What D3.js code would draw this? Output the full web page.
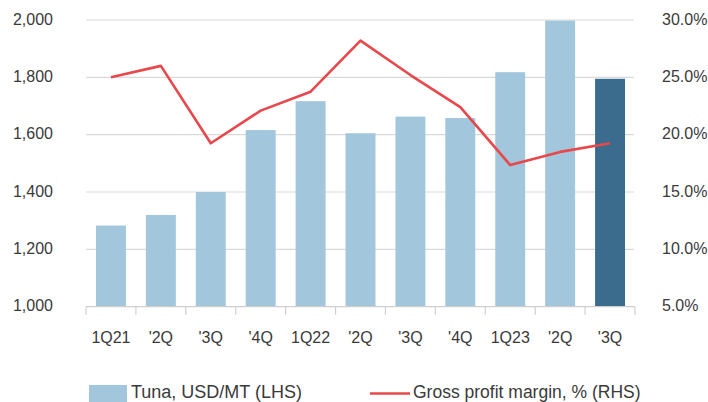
<!DOCTYPE html>
<html>
<head>
<meta charset="utf-8">
<script src="https://cdn.jsdelivr.net/npm/d3@7"></script>
<style>
  body { margin: 0; background: #fff; }
  svg text { font-family: "Liberation Sans", Arial, sans-serif; fill: #3a3a3a; }
</style>
</head>
<body>
<div id="chart"></div>
<script>
const width = 708;
const height = 402;

// quarters on the x axis
const quarters = ['1Q21', "'2Q", "'3Q", "'4Q", '1Q22', "'2Q", "'3Q", "'4Q", '1Q23', "'2Q", "'3Q"];
// tuna price, USD/MT (LHS)
const tunaPrice = [1283, 1320, 1400, 1616, 1717, 1605, 1663, 1658, 1818, 1998, 1795];
// gross profit margin, % (RHS)
const grossMargin = [25.0, 26.0, 19.25, 22.1, 23.75, 28.2, 25.2, 22.4, 17.35, 18.5, 19.25];
// axis ticks
const leftTicks = [1000, 1200, 1400, 1600, 1800, 2000];
const rightTicks = [5, 10, 15, 20, 25, 30];

const svg = d3.select('#chart').append('svg')
  .attr('width', width)
  .attr('height', height);

// band scale, one slot per quarter
const xScale = d3.scaleBand()
  .domain(d3.range(quarters.length))
  .range([86, 635])
  .paddingInner(0.4)
  .paddingOuter(0.2);

const yLeft = d3.scaleLinear().domain([1000, 2000]).range([306.7, 20]);
const yRight = d3.scaleLinear().domain([5, 30]).range([306.7, 20]);

// gridlines
svg.append('g').selectAll('line').data(leftTicks.slice(1))
  .enter().append('line')
  .attr('x1', 86).attr('x2', 634)
  .attr('y1', d => yLeft(d)).attr('y2', d => yLeft(d))
  .attr('stroke', '#d9d9d9')
  .attr('stroke-width', 1.2);

// bars - last one is darker
svg.append('g').selectAll('rect').data(tunaPrice)
  .enter().append('rect')
  .attr('x', (d, i) => xScale(i))
  .attr('y', d => yLeft(d))
  .attr('width', xScale.bandwidth())
  .attr('height', d => yLeft(1000) - yLeft(d))
  .attr('fill', (d, i) => i === tunaPrice.length - 1 ? '#3b6b8d' : '#a2c6dc');

// x axis line and ticks at band boundaries
const step = xScale.step();
const x0 = xScale.range()[0];
svg.append('line')
  .attr('x1', x0).attr('x2', x0 + step * quarters.length)
  .attr('y1', yLeft(1000)).attr('y2', yLeft(1000))
  .attr('stroke', '#cfcfcf').attr('stroke-width', 1.2);

svg.append('g').selectAll('line').data(d3.range(quarters.length + 1))
  .enter().append('line')
  .attr('x1', i => x0 + i * step).attr('x2', i => x0 + i * step)
  .attr('y1', yLeft(1000)).attr('y2', yLeft(1000) + 8)
  .attr('stroke', '#cfcfcf').attr('stroke-width', 1.2);

// x labels
svg.append('g').selectAll('text').data(quarters)
  .enter().append('text')
  .attr('x', (d, i) => xScale(i) + xScale.bandwidth() / 2)
  .attr('y', 343)
  .attr('text-anchor', 'middle')
  .style('font-size', '16px')
  .text(d => d);

// left axis labels
const fmtLeft = d3.format(',');
svg.append('g').selectAll('text').data(leftTicks)
  .enter().append('text')
  .attr('x', 53)
  .attr('y', d => yLeft(d) + 4.5)
  .attr('text-anchor', 'end')
  .style('font-size', '16px')
  .text(d => fmtLeft(d));

// right axis labels
svg.append('g').selectAll('text').data(rightTicks)
  .enter().append('text')
  .attr('x', 662)
  .attr('y', d => yRight(d) + 4.5)
  .style('font-size', '16px')
  .text(d => d.toFixed(1) + '%');

// margin line
const line = d3.line()
  .x((d, i) => xScale(i) + xScale.bandwidth() / 2)
  .y(d => yRight(d));

svg.append('path')
  .datum(grossMargin)
  .attr('d', line)
  .attr('fill', 'none')
  .attr('stroke', '#e8484b')
  .attr('stroke-width', 2.6)
  .attr('stroke-linejoin', 'round');

// legend (nudged up a bit so descenders stay inside the picture)
svg.append('rect')
  .attr('x', 89).attr('y', 385)
  .attr('width', 38).attr('height', 17)
  .attr('fill', '#a2c6dc');
svg.append('text')
  .attr('x', 131).attr('y', 397.5)
  .style('font-size', '18px')
  .text('Tuna, USD/MT (LHS)');

svg.append('line')
  .attr('x1', 370).attr('x2', 410)
  .attr('y1', 393.5).attr('y2', 393.5)
  .attr('stroke', '#e8484b')
  .attr('stroke-width', 2.6);
svg.append('text')
  .attr('x', 413).attr('y', 397.5)
  .style('font-size', '17.5px')
  .text('Gross profit margin, % (RHS)');
</script>
</body>
</html>
